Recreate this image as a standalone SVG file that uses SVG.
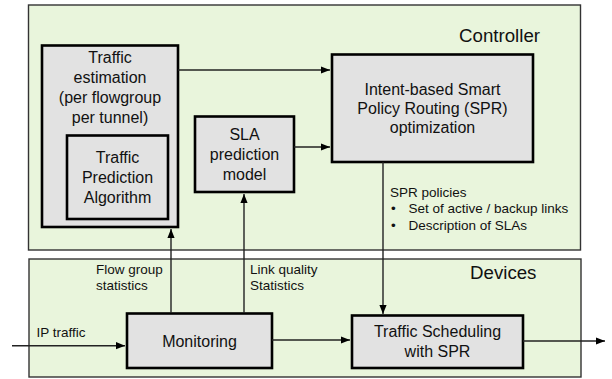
<svg xmlns="http://www.w3.org/2000/svg" width="612" height="379" viewBox="0 0 612 379">
<defs>
<marker id="ah" viewBox="0 0 10 10" refX="10" refY="5" markerWidth="9" markerHeight="9" markerUnits="userSpaceOnUse" orient="auto">
<path d="M0,1 L10,5 L0,9 Z" fill="#000"/>
</marker>
</defs>
<style>
.panel{fill:#e9f5dc;stroke:#333;stroke-width:1.4}
.box{fill:#e2e2e2;stroke:#000;stroke-width:2.6}
.t{font-family:"Liberation Sans",Arial,sans-serif;font-size:16px;fill:#111;text-anchor:middle}
.s{font-family:"Liberation Sans",Arial,sans-serif;font-size:13.5px;fill:#111}
.p{font-family:"Liberation Sans",Arial,sans-serif;font-size:18.7px;fill:#111}
.c{fill:none;stroke:#222;stroke-width:1.4}
</style>
<g id="controller">
<rect class="panel" x="28.5" y="5" width="552" height="245"/>
<text class="p" x="459" y="42">Controller</text>
</g>
<g id="devices">
<rect class="panel" x="29" y="259" width="552" height="118"/>
<text class="p" x="470" y="279">Devices</text>
</g>
<g id="traffic-estimation">
<rect class="box" x="42" y="45.5" width="136" height="181.5"/>
<text class="t" x="110" y="63">Traffic</text>
<text class="t" x="110" y="83">estimation</text>
<text class="t" x="110" y="103">(per flowgroup</text>
<text class="t" x="110" y="123">per tunnel)</text>
</g>
<g id="traffic-prediction">
<rect class="box" x="67" y="135.5" width="101" height="83.5"/>
<text class="t" x="117.5" y="163">Traffic</text>
<text class="t" x="117.5" y="183">Prediction</text>
<text class="t" x="117.5" y="203">Algorithm</text>
</g>
<g id="sla">
<rect class="box" x="195" y="116.5" width="99" height="75.5"/>
<text class="t" x="244.5" y="140">SLA</text>
<text class="t" x="244.5" y="160">prediction</text>
<text class="t" x="244.5" y="180">model</text>
</g>
<g id="spr">
<rect class="box" x="332" y="54.5" width="201" height="107.5"/>
<text class="t" x="432.5" y="95">Intent-based Smart</text>
<text class="t" x="432.5" y="114">Policy Routing (SPR)</text>
<text class="t" x="432.5" y="133">optimization</text>
</g>
<g id="monitoring">
<rect class="box" x="127" y="313.5" width="145" height="54.5"/>
<text class="t" x="199.5" y="346.5">Monitoring</text>
</g>
<g id="scheduling">
<rect class="box" x="352" y="315.5" width="171" height="52.5"/>
<text class="t" x="437.5" y="336.5">Traffic Scheduling</text>
<text class="t" x="437.5" y="356.5">with SPR</text>
</g>
<g id="connectors">
<line class="c" x1="178" y1="70" x2="330" y2="70" marker-end="url(#ah)"/>
<line class="c" x1="294" y1="147" x2="330" y2="147" marker-end="url(#ah)"/>
<line class="c" x1="383" y1="162" x2="383" y2="314" marker-end="url(#ah)"/>
<line class="c" x1="171" y1="313" x2="171" y2="229" marker-end="url(#ah)"/>
<line class="c" x1="244" y1="313" x2="244" y2="194" marker-end="url(#ah)"/>
<line class="c" x1="12" y1="345.7" x2="125" y2="345.7" marker-end="url(#ah)"/>
<line class="c" x1="272" y1="340" x2="350" y2="340" marker-end="url(#ah)"/>
<line class="c" x1="523" y1="341" x2="605" y2="341" marker-end="url(#ah)"/>
<text class="s" x="390" y="196.7">SPR policies</text>
<text class="s" x="391" y="213.3">•</text>
<text class="s" x="408.5" y="213.3">Set of active / backup links</text>
<text class="s" x="391" y="230">•</text>
<text class="s" x="408.5" y="230">Description of SLAs</text>
<text class="s" x="96" y="274.3">Flow group</text>
<text class="s" x="96" y="290">statistics</text>
<text class="s" x="250" y="274.3">Link quality</text>
<text class="s" x="250" y="290">Statistics</text>
<text class="s" x="36.5" y="337">IP traffic</text>
</g>
</svg>
